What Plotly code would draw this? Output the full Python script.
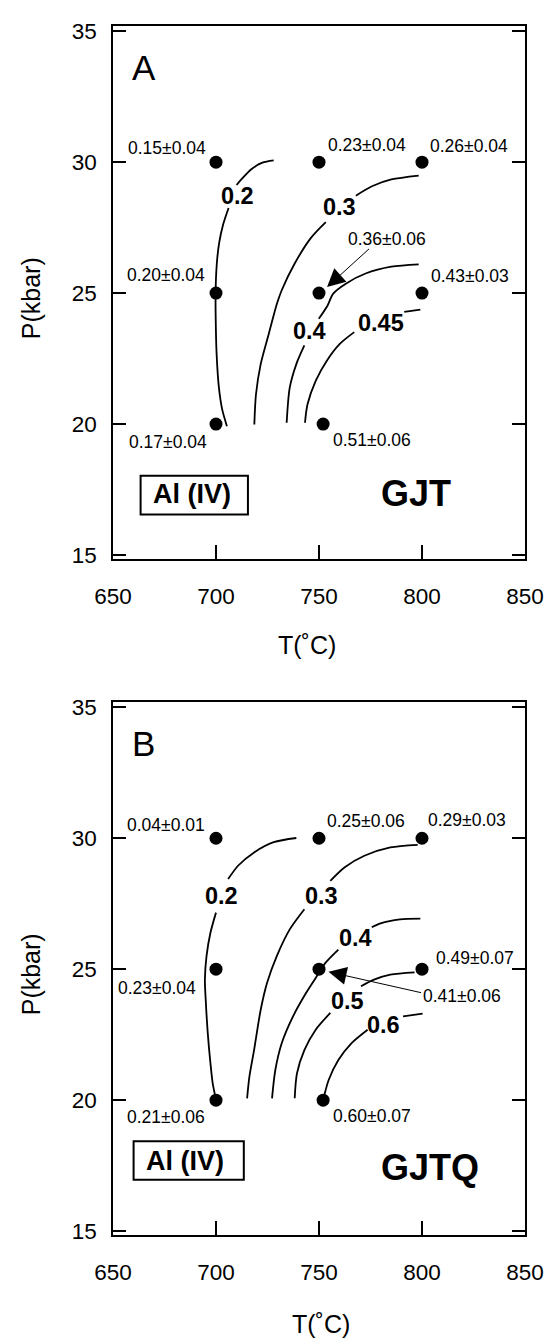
import plotly.graph_objects as go

# ---------------- DATA ----------------
x_ticks = [650, 700, 750, 800, 850]
y_ticks = [15, 20, 25, 30, 35]

# Panel A (GJT): experimental points and Al(IV) values
A_pt_T = [700, 750, 800, 700, 750, 800, 700, 752]
A_pt_P = [30, 30, 30, 25, 25, 25, 20, 20]
A_pt_lbl = ["0.15±0.04", "0.23±0.04", "0.26±0.04", "0.20±0.04",
            "0.36±0.06", "0.43±0.03", "0.17±0.04", "0.51±0.06"]

# Panel A contours (T, P); None = gap for label
A_c02_T = [728.0, 722.5, 717.0, 712.3, 710.0, None, 706.1, 703.4, 701.5, 700.4, 699.8, 699.9, 700.3, 701.4, 703.0, 705.3]
A_c02_P = [30.07, 29.98, 29.72, 29.34, 29.13, None, 28.25, 27.6, 26.9, 26.13, 25.02, 23.83, 22.67, 21.40, 20.56, 19.92]
A_c03_T = [798.4, 785.1, 775.7, 767.9, None, 753.3, 746.0, 738.2, 731.9, 729.6, 725.6, 721.7, 719.4, 718.6]
A_c03_P = [29.49, 29.34, 29.08, 28.72, None, 27.71, 27.10, 26.13, 25.11, 24.6, 23.44, 22.29, 21.13, 19.98]
A_c04_T = [798.4, 785.1, 772.6, 763.2, 756.9, 754.1, 749.9, None, 742.9, 739.0, 735.8, 734.3]
A_c04_P = [26.10, 26.01, 25.75, 25.37, 24.98, 24.52, 24.02, None, 23.0, 22.29, 21.39, 20.05]
A_c045_T = [799.2, 791.4, None, 767.1, 760.1, 753.8, 748.4, 744.4, 743.2]
A_c045_P = [24.37, 24.28, None, 23.51, 23.06, 22.42, 21.65, 20.75, 20.05]
A_contour_lbl = ["0.2", "0.3", "0.4", "0.45"]

# Panel B (GJTQ)
B_pt_T = [700, 750, 800, 700, 750, 800, 700, 752]
B_pt_P = [30, 30, 30, 25, 25, 25, 20, 20]
B_pt_lbl = ["0.04±0.01", "0.25±0.06", "0.29±0.03", "0.23±0.04",
            "0.41±0.06", "0.49±0.07", "0.21±0.06", "0.60±0.07"]

B_c02_T = [739.0, 728.0, 718.5, 710.7, 705.9, None, 700.0, 697.3, 695.4, 694.6, 695.0, 696.0, 697.3, 698.4, 699.7]
B_c02_P = [30.01, 29.85, 29.46, 28.95, 28.44, None, 27.16, 26.39, 25.5, 24.6, 23.84, 22.56, 21.41, 20.64, 20.13]
B_c03_T = [797.9, 784.6, 772.0, 762.5, 755.5, None, 742.9, 735.8, 729.5, 724.8, 721.7, 718.5, 716.2, 715.1]
B_c03_P = [29.75, 29.65, 29.33, 28.89, 28.37, None, 27.29, 26.52, 25.5, 24.48, 23.45, 21.92, 20.89, 20.07]
B_c04_T = [799.2, 789.3, 779.9, 775.6, None, 759.4, 753.1, 750.0, 743.7, 737.4, 731.9, 728.8, 727.2]
B_c04_P = [26.93, 26.90, 26.75, 26.60, None, 25.75, 25.24, 24.86, 24.09, 23.2, 22.17, 21.15, 20.07]
B_c05_T = [796.4, 784.6, 776.7, 770.4, None, 755.5, 748.4, 742.9, 739.3, 738.2]
B_c05_P = [24.88, 24.79, 24.60, 24.35, None, 23.33, 22.69, 21.91, 21.02, 20.07]
B_c06_T = [800.3, 790.8, None, 773.6, 765.7, 759.4, 754.7, 752.4]
B_c06_P = [23.30, 23.20, None, 22.69, 22.17, 21.53, 20.77, 20.13]
B_contour_lbl = ["0.2", "0.3", "0.4", "0.5", "0.6"]

# ---------------- LAYOUT / PLACEMENT ----------------
FONT = "Liberation Sans, Arial, Helvetica, sans-serif"
A_lbl_pos = [(676.4, 30.56), (773.4, 30.65), (822.7, 30.63), (675.7, 25.68),
             (782.8, 27.07), (823.2, 25.65), (676.8, 19.32), (775.7, 19.38)]
A_cl_pos = [(710.3, 28.72), (759.8, 28.29), (745.2, 23.57), (779.9, 23.87)]
B_lbl_pos = [(675.5, 30.52), (773.0, 30.67), (821.9, 30.70), (671.3, 24.28),
             (819.2, 23.99), (825.8, 25.41), (675.5, 19.36), (775.5, 19.40)]
B_cl_pos = [(702.6, 27.78), (751.0, 27.78), (767.9, 26.2), (763.6, 23.77), (781.3, 22.88)]

fig = go.Figure()

def add_panel(xa, ya, pts_T, pts_P, contours):
    for T, P in contours:
        fig.add_trace(go.Scatter(x=T, y=P, mode="lines", xaxis=xa, yaxis=ya,
                                 line=dict(color="black", width=1.8, shape="spline", smoothing=0.8),
                                 connectgaps=False, showlegend=False, hoverinfo="skip"))
    fig.add_trace(go.Scatter(x=pts_T, y=pts_P, mode="markers", xaxis=xa, yaxis=ya,
                             marker=dict(color="black", size=13), showlegend=False))

add_panel("x", "y", A_pt_T, A_pt_P,
          [(A_c02_T, A_c02_P), (A_c03_T, A_c03_P), (A_c04_T, A_c04_P), (A_c045_T, A_c045_P)])
add_panel("x2", "y2", B_pt_T, B_pt_P,
          [(B_c02_T, B_c02_P), (B_c03_T, B_c03_P), (B_c04_T, B_c04_P), (B_c05_T, B_c05_P), (B_c06_T, B_c06_P)])

ann = []
def txt(xr, yr, x, y, s, size, bold=False, **kw):
    d = dict(xref=xr, yref=yr, x=x, y=y, text=("<b>%s</b>" % s) if bold else s,
             showarrow=False, font=dict(family=FONT, size=size, color="black"),
             xanchor="center", yanchor="middle")
    d.update(kw)
    ann.append(d)

for (x, y), s in zip(A_lbl_pos, A_pt_lbl):
    txt("x", "y", x, y, s, 17.5)
for (x, y), s in zip(A_cl_pos, A_contour_lbl):
    txt("x", "y", x, y, s, 23.5, bold=True)
for (x, y), s in zip(B_lbl_pos, B_pt_lbl):
    txt("x2", "y2", x, y, s, 17.5)
for (x, y), s in zip(B_cl_pos, B_contour_lbl):
    txt("x2", "y2", x, y, s, 23.5, bold=True)

txt("x", "y", 664.9, 33.6, "A", 35)
txt("x2", "y2", 664.7, 33.62, "B", 35)
txt("x", "y", 688.4, 17.32, "Al (IV)", 27, bold=True)
txt("x2", "y2", 685.0, 17.67, "Al (IV)", 27, bold=True)
txt("x", "y", 797.1, 17.35, "GJT", 36, bold=True)
txt("x2", "y2", 803.8, 17.44, "GJTQ", 36, bold=True)

# arrows
ann.append(dict(xref="x", yref="y", axref="x", ayref="y", x=753.9, y=25.23, ax=775.0, ay=26.74,
                text="", showarrow=True, arrowhead=2, arrowsize=3.6, arrowwidth=1, arrowcolor="black"))
ann.append(dict(xref="x2", yref="y2", axref="x2", ayref="y2", x=754.6, y=24.90, ax=800.3, ay=24.09,
                text="", showarrow=True, arrowhead=2, arrowsize=3.6, arrowwidth=1, arrowcolor="black"))

# axis titles
txt("paper", "paper", -0.197, 0.7747, "P(kbar)", 25, textangle=-90)
txt("paper", "paper", -0.197, 0.2155, "P(kbar)", 25, textangle=-90)
txt("paper", "paper", 0.470, 0.4877, "T(˚C)", 25)
txt("paper", "paper", 0.506, -0.074, "T(˚C)", 25)

shapes = [
    dict(type="rect", xref="x", yref="y", x0=663.4, x1=715.5, y0=16.55, y1=18.03,
         line=dict(color="black", width=2)),
    dict(type="rect", xref="x2", yref="y2", x0=660.0, x1=713.5, y0=16.96, y1=18.43,
         line=dict(color="black", width=2)),
]

xax = dict(range=[650, 850], tickvals=x_ticks, ticks="inside", ticklen=14, tickwidth=1.5,
           tickcolor="black", showline=True, linecolor="black", linewidth=1.5, mirror=True,
           showgrid=False, zeroline=False, ticklabelstandoff=16,
           tickfont=dict(family=FONT, size=22.5, color="black"))
yax = dict(range=[14.85, 35.2], tickvals=y_ticks, ticks="inside", ticklen=13, tickwidth=1.5,
           tickcolor="black", showline=True, linecolor="black", linewidth=1.5, mirror="ticks",
           showgrid=False, zeroline=False, ticklabelstandoff=10,
           tickfont=dict(family=FONT, size=22.5, color="black"))

# page body has an 8px margin: figure is sized/offset so the plot boxes land where the reference has them
fig.update_layout(
    width=547, height=1333,
    margin=dict(l=105, r=21, t=11, b=106),
    paper_bgcolor="white", plot_bgcolor="white",
    showlegend=False,
    xaxis=dict(xax, domain=[0, 1], anchor="y"),
    yaxis=dict(yax, domain=[0.5592, 1], anchor="x"),
    xaxis2=dict(xax, domain=[0, 1], anchor="y2"),
    yaxis2=dict(yax, domain=[0, 0.4408], anchor="x2"),
    annotations=ann,
    shapes=shapes,
)

fig.write_html("out.html")
